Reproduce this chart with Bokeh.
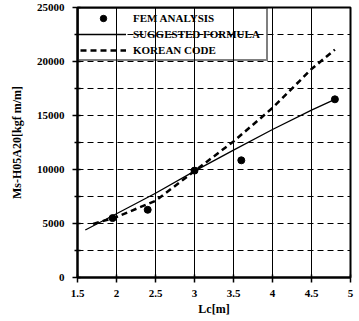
from bokeh.plotting import figure
from bokeh.models import Legend, LegendItem, FixedTicker, Range1d
from bokeh.embed import file_html
from bokeh.resources import INLINE

# ---- data ----
fem_x = [1.95, 2.4, 3.0, 3.6, 4.8]
fem_y = [5500, 6270, 9900, 10850, 16500]

sug_x = [1.6, 2.0, 2.5, 3.0, 3.5, 4.0, 4.5, 4.8]
sug_y = [4400, 5900, 7800, 9850, 11800, 13700, 15500, 16500]

kor_x = [1.7, 2.0, 2.5, 3.0, 3.5, 4.0, 4.5, 4.8]
kor_y = [4950, 5600, 7100, 9850, 12600, 15700, 19300, 21100]

x_ticks = [1.5, 2, 2.5, 3, 3.5, 4, 4.5, 5]
x_labels = {1.5: "1.5", 2: "2", 2.5: "2.5", 3: "3", 3.5: "3.5", 4: "4", 4.5: "4.5", 5: "5"}
y_ticks = [0, 5000, 10000, 15000, 20000, 25000]
y_minor = [2500, 7500, 12500, 17500, 22500]
x_grid = [2, 2.5, 3, 3.5, 4, 4.5]
y_grid = [2500, 5000, 7500, 10000, 12500, 15000, 17500, 20000, 22500]

legend_labels = ["FEM ANALYSIS", "SUGGESTED FORMULA", "KOREAN CODE"]
y_title = "Ms-H05A20[kgf m/m]"
x_title = "Lc[m]"

FONT = "Liberation Serif"

p = figure(width=359, height=321, x_range=Range1d(1.5, 5), y_range=Range1d(0, 25000),
           output_backend="svg", toolbar_location=None,
           min_border_left=77, min_border_right=9, min_border_top=7, min_border_bottom=44)
p.background_fill_color = "white"
p.border_fill_color = "white"
p.outline_line_color = "black"
p.outline_line_width = 2

# black grid (settings that rendered reliably)
p.xgrid.ticker = FixedTicker(ticks=x_grid)
p.ygrid.ticker = FixedTicker(ticks=y_grid)
p.xgrid.grid_line_color = "black"
p.xgrid.grid_line_width = 1
p.xgrid.grid_line_dash = "solid"
p.ygrid.grid_line_color = "black"
p.ygrid.grid_line_width = 1
p.ygrid.grid_line_dash = "6 4"

# axes
xa = p.xaxis[0]
xa.ticker = FixedTicker(ticks=x_ticks, minor_ticks=[])
xa.major_label_overrides = x_labels
ya = p.yaxis[0]
ya.ticker = FixedTicker(ticks=y_ticks, minor_ticks=y_minor)
for ax in (xa, ya):
    ax.axis_line_width = 2
    ax.axis_line_color = "black"
    ax.major_tick_line_color = "black"
    ax.major_tick_line_width = 1.5
    ax.major_tick_in = 3
    ax.major_tick_out = 5
    ax.minor_tick_line_color = "black"
    ax.minor_tick_line_width = 1.5
    ax.minor_tick_in = 3
    ax.minor_tick_out = 3
    ax.major_label_text_font = FONT
    ax.major_label_text_font_style = "bold"
    ax.major_label_text_font_size = "11px"
    ax.major_label_text_color = "black"
    ax.axis_label_text_font = FONT
    ax.axis_label_text_font_style = "bold"
    ax.axis_label_text_color = "black"
xa.major_label_standoff = 7
ya.major_label_standoff = 8
ya.axis_label = y_title
ya.axis_label_text_font_size = "12px"
ya.axis_label_standoff = 10
xa.axis_label = x_title
xa.axis_label_text_font_size = "12px"
xa.axis_label_standoff = 2

# data
r_kor = p.line(kor_x, kor_y, line_color="black", line_width=2.5, line_dash="6 4")
r_sug = p.line(sug_x, sug_y, line_color="black", line_width=1.3)
r_fem = p.scatter(fem_x, fem_y, marker="circle", size=7, fill_color="black", line_color="black")

legend = Legend(items=[LegendItem(label=legend_labels[0], renderers=[r_fem]),
                       LegendItem(label=legend_labels[1], renderers=[r_sug]),
                       LegendItem(label=legend_labels[2], renderers=[r_kor])],
                location="top_left")
legend.margin = 0
legend.padding = 1
legend.spacing = 0
legend.glyph_width = 46
legend.glyph_height = 16
legend.label_height = 16
legend.label_width = 132
legend.label_standoff = 7
legend.label_text_font = FONT
legend.label_text_font_style = "bold"
legend.label_text_font_size = "11px"
legend.label_text_color = "black"
legend.border_line_color = "black"
legend.border_line_width = 2
legend.background_fill_alpha = 0
p.add_layout(legend)

open("out.html", "w").write(file_html(p, INLINE))
